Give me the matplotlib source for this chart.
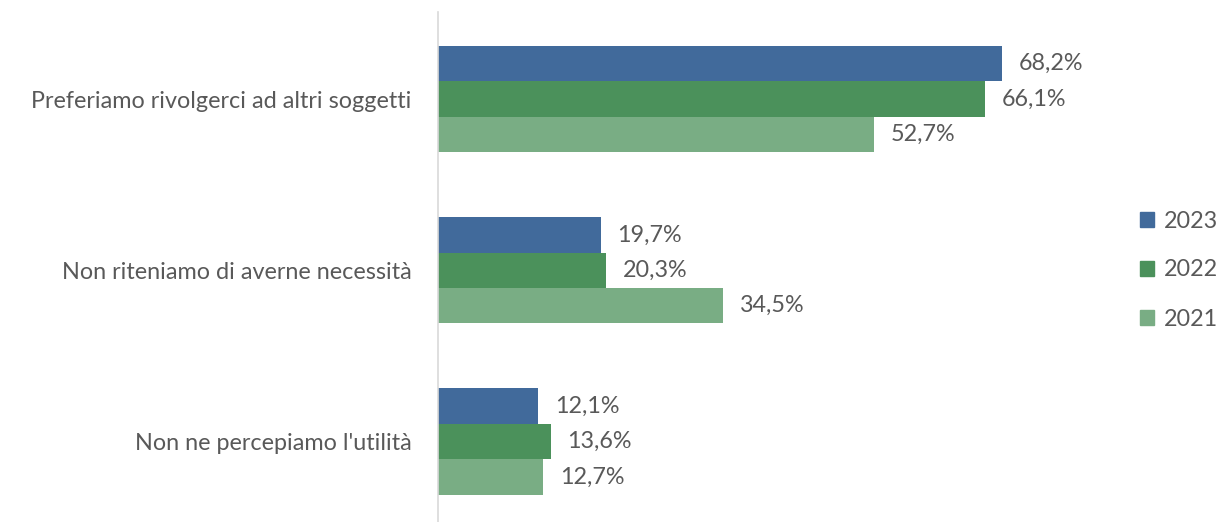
import numpy as np
import matplotlib.pyplot as plt
from matplotlib.patches import Patch

categories = ["Preferiamo rivolgerci ad altri soggetti",
              "Non riteniamo di averne necessità",
              "Non ne percepiamo l'utilità"]
years = ["2023", "2022", "2021"]
values = {
    "2023": [68.2, 19.7, 12.1],
    "2022": [66.1, 20.3, 13.6],
    "2021": [52.7, 34.5, 12.7],
}
colors = {"2023": "#416A9B", "2022": "#4B915B", "2021": "#79AD84"}

plt.rcParams['font.family'] = ['Lato', 'DejaVu Sans']
text_col = "#595959"
fs = 16.8

fig = plt.figure(figsize=(12.2, 5.22), dpi=100)
ax = fig.add_axes([438 / 1220, 0.0, 662 / 1220, 510 / 522])

y = np.arange(len(categories))
h = 0.207
for i, yr in enumerate(years):
    pos = y + (i - 1) * h
    bars = ax.barh(pos, values[yr], height=h, color=colors[yr], label=yr)
    for b, v in zip(bars, values[yr]):
        ax.text(v + 2.0, b.get_y() + h / 2, f"{v:.1f}%".replace(".", ","),
                va="center", ha="left", fontsize=fs, color=text_col)

ax.set_xlim(0, 80)
ax.set_ylim(2.47, -0.509)
ax.set_yticks(y)
ax.set_yticklabels(categories, fontsize=fs, color=text_col)
ax.tick_params(axis="y", length=0, pad=19)
ax.set_xticks([])
for s in ["top", "right", "bottom"]:
    ax.spines[s].set_visible(False)
ax.spines["left"].set_color("#D9D9D9")
ax.spines["left"].set_linewidth(1.2)

handles = [Patch(color=colors[yr]) for yr in years]
fig.legend(handles, years, loc="center left", bbox_to_anchor=(1140 / 1220, 1 - 270 / 522),
           frameon=False, fontsize=fs, labelcolor=text_col, handlelength=0.6,
           handleheight=0.6, handletextpad=0.43, labelspacing=1.2,
           borderpad=0, borderaxespad=0)

fig.savefig("out.png", dpi=100)
